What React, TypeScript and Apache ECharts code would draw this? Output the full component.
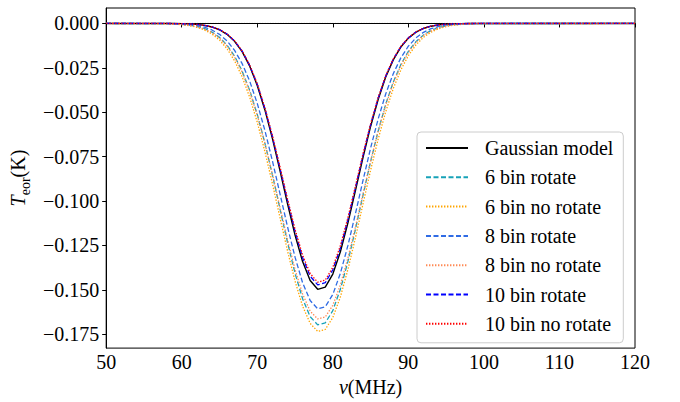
import React, { useEffect, useRef } from "react";
import * as echarts from "echarts";

const FREQ = [50, 58, 59, 60, 61, 62, 63, 64, 65, 66, 67, 68, 69, 70, 71, 72, 73, 74, 75, 76, 77, 78, 79, 80, 81, 82, 83, 84, 85, 86, 87, 88, 89, 90, 91, 92, 93, 94, 95, 96, 97, 98, 99, 100, 120];

const GAUSSIAN = [0, 0, -0.00006, -0.000125, -0.000266, -0.000542, -0.00106, -0.00198, -0.00355, -0.0061, -0.01005, -0.01587, -0.02404, -0.03491, -0.04856, -0.06474, -0.08277, -0.1014, -0.1191, -0.1341, -0.1447, -0.1497, -0.1485, -0.1411, -0.1286, -0.1123, -0.094, -0.0754, -0.058, -0.0428, -0.0302, -0.0205, -0.0133, -0.00827, -0.00494, -0.00282, -0.00155, -0.00081, -0.00041, -0.0002, -0.0001, -0.00004, 0, 0, 0];

const BIN6_ROT = [0, -0.00013, -0.00026, -0.0005, -0.00093, -0.00167, -0.00289, -0.00484, -0.00783, -0.01222, -0.01843, -0.02683, -0.03774, -0.05126, -0.06725, -0.0852, -0.1043, -0.1232, -0.1407, -0.155, -0.1651, -0.1697, -0.1686, -0.1617, -0.1497, -0.134, -0.1158, -0.0966, -0.0778, -0.0606, -0.0455, -0.0331, -0.0232, -0.0157, -0.0103, -0.00648, -0.00395, -0.00233, -0.00133, -0.00073, -0.00039, -0.0002, -0.0001, -0.00005, 0];

const BIN6_NOROT = [0, -0.00019, -0.00037, -0.00068, -0.00123, -0.00215, -0.00363, -0.00591, -0.00933, -0.01425, -0.02105, -0.03008, -0.04158, -0.05563, -0.072, -0.0901, -0.1092, -0.128, -0.1451, -0.1592, -0.1689, -0.1734, -0.1723, -0.1656, -0.154, -0.1385, -0.1206, -0.1015, -0.0827, -0.0652, -0.0497, -0.0367, -0.0262, -0.0181, -0.0121, -0.00781, -0.00488, -0.00295, -0.00173, -0.00098, -0.00054, -0.00028, -0.00015, -0.00007, 0];

const BIN8_ROT = [0, -0.00008, -0.00016, -0.000328, -0.000636, -0.00118, -0.00212, -0.00367, -0.00612, -0.00981, -0.01518, -0.02264, -0.03252, -0.04503, -0.0601, -0.0773, -0.0958, -0.1144, -0.1316, -0.146, -0.156, -0.1607, -0.1595, -0.1526, -0.1407, -0.125, -0.107, -0.0883, -0.0702, -0.0538, -0.0397, -0.0283, -0.0194, -0.0128, -0.00815, -0.00501, -0.00296, -0.00169, -0.00093, -0.00049, -0.00025, -0.00012, -0.00006, -0.00003, 0];

const BIN8_NOROT = [0, -0.00015, -0.00029, -0.00056, -0.00102, -0.00181, -0.0031, -0.00513, -0.00821, -0.01269, -0.01897, -0.02739, -0.03824, -0.05161, -0.0673, -0.0848, -0.1034, -0.1217, -0.1385, -0.1523, -0.162, -0.1664, -0.1653, -0.1587, -0.1472, -0.132, -0.1145, -0.0959, -0.0776, -0.0608, -0.046, -0.0336, -0.0237, -0.0162, -0.0107, -0.00683, -0.00422, -0.00251, -0.00145, -0.0008, -0.00043, -0.00023, -0.00011, -0.00006, 0];

const BIN10_ROT = [0, 0, -0.00006, -0.00012, -0.00026, -0.00053, -0.00104, -0.00195, -0.00349, -0.006, -0.00988, -0.01561, -0.02364, -0.03433, -0.04775, -0.06366, -0.08139, -0.0997, -0.1171, -0.1319, -0.1423, -0.1472, -0.146, -0.1387, -0.1265, -0.1104, -0.0924, -0.0741, -0.057, -0.0421, -0.0297, -0.0202, -0.0131, -0.00813, -0.00486, -0.00277, -0.00152, -0.0008, -0.0004, -0.0002, -0.0001, -0.00004, 0, 0, 0];

const BIN10_NOROT = [0, 0, -0.00006, -0.00012, -0.00026, -0.00053, -0.00103, -0.00193, -0.00346, -0.00594, -0.00978, -0.01545, -0.0234, -0.03398, -0.04726, -0.06301, -0.08056, -0.0987, -0.1159, -0.1305, -0.1408, -0.1457, -0.1445, -0.1373, -0.1252, -0.1093, -0.0915, -0.0734, -0.0565, -0.0417, -0.0294, -0.02, -0.0129, -0.00805, -0.00481, -0.00274, -0.00151, -0.00079, -0.0004, -0.0002, -0.0001, -0.00004, 0, 0, 0];

const Y_TICKS = [-0.175, -0.15, -0.125, -0.1, -0.075, -0.05, -0.025, 0];
const X_TICKS = [50, 60, 70, 80, 90, 100, 110, 120];

const FONT = "Liberation Serif";

const SERIES_DEFS = [
  { name: "Gaussian model", values: GAUSSIAN, color: "#000000", type: "solid" as any, width: 1.4 },
  { name: "6 bin rotate", values: BIN6_ROT, color: "#17a2b8", type: [5, 2.5], width: 1.3 },
  { name: "6 bin no rotate", values: BIN6_NOROT, color: "#ffa500", type: [1.4, 1.6], width: 1.3 },
  { name: "8 bin rotate", values: BIN8_ROT, color: "#2f6be4", type: [5, 2.5], width: 1.3 },
  { name: "8 bin no rotate", values: BIN8_NOROT, color: "#ff8a55", type: [1.4, 1.6], width: 1.3 },
  { name: "10 bin rotate", values: BIN10_ROT, color: "#0000ff", type: [5, 2.5], width: 1.3 },
  { name: "10 bin no rotate", values: BIN10_NOROT, color: "#ff0000", type: [1.4, 1.6], width: 1.3 },
];

const fmtY = (v: number) => {
  const s = Math.abs(v).toFixed(3);
  return "{a|" + (v < -1e-9 ? "\u2212" + s : s) + "}";
};
const fmtX = (v: number) => "{a|" + String(v) + "}";

const RICH_A = { a: { fontFamily: FONT, fontSize: 20, color: "#000" } };

export default function App() {
  const ref = useRef<HTMLDivElement>(null);
  useEffect(() => {
    document.body.style.margin = "0";
    const chart = echarts.init(ref.current!, null, { renderer: "svg" });
    const series: any[] = [
      {
        name: "zero",
        type: "line",
        data: [[50, 0], [120, 0]],
        symbol: "none",
        lineStyle: { color: "#000", width: 0.9, type: [1, 1.6] },
        silent: true,
        z: 1,
      },
      ...SERIES_DEFS.map((s, i) => ({
        name: s.name,
        type: "line",
        data: FREQ.map((f, j) => [f, s.values[j]]),
        symbol: "none",
        lineStyle: { color: s.color, width: s.width, type: s.type },
        itemStyle: { color: s.color },
        z: 2 + i,
      })),
    ];
    chart.setOption({
      animation: false,
      textStyle: { fontFamily: FONT },
      grid: {
        left: 102,
        right: 45,
        top: 8,
        bottom: 49,
        show: true,
        borderColor: "#000",
        borderWidth: 1,
        backgroundColor: "transparent",
      },
      xAxis: {
        type: "value",
        min: 50,
        max: 120,
        interval: 10,
        name: "{v|\u03bd}{n|(MHz)}",
        nameLocation: "middle",
        nameGap: 23,
        nameTextStyle: {
          fontFamily: FONT,
          fontSize: 20,
          color: "#000",
          verticalAlign: "top",
          rich: {
            v: { fontFamily: FONT, fontSize: 20, fontStyle: "italic", color: "#000" },
            n: { fontFamily: FONT, fontSize: 20, color: "#000" },
          },
        },
        axisLine: { show: true, lineStyle: { color: "#000", width: 1 } },
        axisTick: { show: true, inside: false, length: 4, lineStyle: { color: "#000" }, customValues: X_TICKS },
        axisLabel: { fontFamily: FONT, fontSize: 20, color: "#000", margin: 4, customValues: X_TICKS, formatter: fmtX, rich: RICH_A },
        splitLine: { show: false },
      },
      yAxis: {
        type: "value",
        min: -0.1828,
        max: 0.0087,
        name: "{t|T}{s|eor}{n|(K)}",
        nameLocation: "middle",
        nameGap: 72,
        nameRotate: 90,
        nameTextStyle: {
          fontFamily: FONT,
          fontSize: 20,
          color: "#000",
          rich: {
            t: { fontFamily: FONT, fontSize: 20, fontStyle: "italic", color: "#000", lineHeight: 24, verticalAlign: "bottom" },
            s: { fontFamily: FONT, fontSize: 14, color: "#000", lineHeight: 24, verticalAlign: "bottom", padding: [0, 0, -4, 0] },
            n: { fontFamily: FONT, fontSize: 20, color: "#000", lineHeight: 24, verticalAlign: "bottom" },
          },
        },
        axisLine: { show: true, lineStyle: { color: "#000", width: 1 } },
        axisTick: { show: true, inside: false, length: 4, lineStyle: { color: "#000" }, customValues: Y_TICKS },
        axisLabel: { fontFamily: FONT, fontSize: 20, color: "#000", margin: 7, customValues: Y_TICKS, formatter: fmtY, rich: RICH_A },
        splitLine: { show: false },
      },
      legend: {
        orient: "vertical",
        left: 417,
        top: 132,
        padding: [6, 10, 9, 8],
        itemWidth: 42,
        itemHeight: 20,
        itemGap: 9.3,
        data: SERIES_DEFS.map((s) => s.name),
        formatter: (name: string) => "{a|" + name + "}",
        backgroundColor: "rgba(255,255,255,0.85)",
        borderColor: "#cccccc",
        borderWidth: 1,
        borderRadius: 4,
        itemStyle: { opacity: 0 },
        textStyle: {
          fontFamily: FONT,
          fontSize: 20,
          color: "#000",
          lineHeight: 20,
          padding: [0, 0, 0, 12],
          rich: { a: { fontFamily: FONT, fontSize: 20, color: "#000", lineHeight: 20 } },
        },
      },
      series,
    });
    return () => chart.dispose();
  }, []);
  return <div ref={ref} style={{ position: "absolute", left: 0, top: 0, width: 680, height: 402 }} />;
}
